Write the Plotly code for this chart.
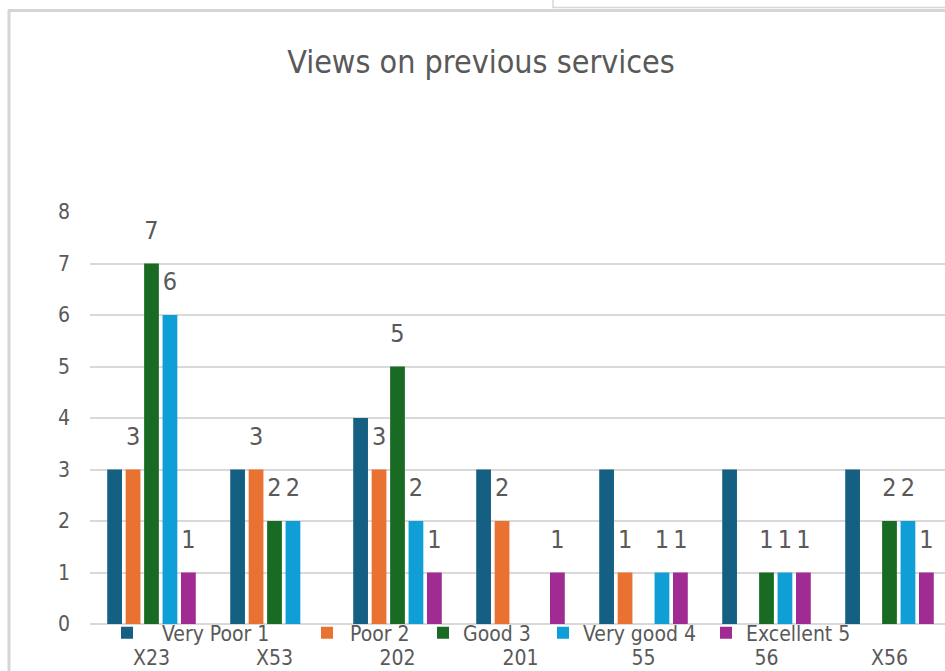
import plotly.graph_objects as go

# Survey sites and ratings
categories = ["X23", "X53", "202", "201", "55", "56", "X56"]
series_names = ["Very Poor 1", "Poor 2", "Good 3", "Very good 4", "Excellent 5"]
very_poor = [3, 3, 4, 3, 3, 3, 3]
poor = [3, 3, 3, 2, 1, 0, 0]
good = [7, 2, 5, 0, 0, 1, 2]
very_good = [6, 2, 2, 0, 1, 1, 2]
excellent = [1, 0, 1, 1, 1, 1, 1]
y_ticks = [0, 1, 2, 3, 4, 5, 6, 7, 8]

series_values = [very_poor, poor, good, very_good, excellent]
colors = ["#156082", "#E97132", "#196B24", "#0F9ED5", "#A02B93"]
show_labels = [False, True, True, True, True]

FONT = "Liberation Sans Narrow, DejaVu Sans Condensed, Arial Narrow, sans-serif"
TEXT_COLOR = "#595959"
GRID = "#D9D9D9"

W, H = 945, 671
M_L, M_R, M_T, M_B = 90, 0, 212, 47
BARGAP = 0.25

fig = go.Figure()

legend_ids = ["legend", "legend2", "legend3", "legend4", "legend5"]
for name, vals, col, lg in zip(series_names, series_values, colors, legend_ids):
    fig.add_trace(go.Bar(
        name=name, x=categories, y=vals, marker=dict(color=col, line=dict(width=0)),
        legend=lg, hoverinfo="skip",
    ))

# value labels, grouped the same way as the bars
for name, vals, show in zip(series_names, series_values, show_labels):
    fig.add_trace(go.Scatter(
        x=categories, y=vals, mode="markers+text",
        text=[str(v) if (show and v) else "" for v in vals],
        textposition="top center",
        textfont=dict(family=FONT, size=25, color=TEXT_COLOR),
        marker=dict(size=28, opacity=0),
        showlegend=False, hoverinfo="skip", cliponaxis=False,
    ))

# legend entries: where each label starts (px) and the symbol slot width
legend_text_px = [162, 350, 463, 583, 746]
legend_item_w = [60, 36, 30, 30, 30]
plot_w = W - M_L - M_R
plot_h = H - M_T - M_B

def px_x(p):
    return (p - M_L) / plot_w

def px_y(p):
    return (H - M_B - p) / plot_h

legend_layouts = {}
for lg, tx, iw in zip(legend_ids, legend_text_px, legend_item_w):
    legend_layouts[lg] = dict(
        x=px_x(tx - iw - 10), y=px_y(633), xanchor="left", yanchor="middle",
        orientation="h", bgcolor="rgba(0,0,0,0)", borderwidth=0,
        font=dict(family=FONT, size=21, color=TEXT_COLOR),
        itemwidth=iw,
    )

# frame lines of the chart box
frame = [
    dict(x0=px_x(9), x1=px_x(9), y0=px_y(10), y1=px_y(690), w=3),
    dict(x0=px_x(8), x1=px_x(960), y0=px_y(10.5), y1=px_y(10.5), w=3),
    dict(x0=px_x(553), x1=px_x(553), y0=px_y(-2), y1=px_y(8), w=1.5),
    dict(x0=px_x(553), x1=px_x(960), y0=px_y(7.5), y1=px_y(7.5), w=1.5),
]
shapes = [
    dict(type="line", xref="paper", yref="paper", x0=f["x0"], x1=f["x1"],
         y0=f["y0"], y1=f["y1"], line=dict(color="#D6D6D6", width=f["w"]))
    for f in frame
]

last_cut = (W - M_L) / 123.0  # category spacing in px

fig.update_layout(
    width=W, height=H,
    margin=dict(l=M_L, r=M_R, t=M_T, b=M_B, pad=0, autoexpand=False),
    paper_bgcolor="white", plot_bgcolor="white",
    barmode="group", bargap=BARGAP, bargroupgap=0.2,
    scattermode="group", scattergap=BARGAP,
    title=dict(text="Views on previous services", x=(481 - M_L) / plot_w, xref="paper",
               xanchor="center", y=1 - 62 / H, yanchor="middle",
               font=dict(family=FONT, size=32, color=TEXT_COLOR)),
    font=dict(family=FONT, color=TEXT_COLOR),
    shapes=shapes,
    **legend_layouts,
)

fig.update_xaxes(
    type="category", range=[-0.5, -0.5 + last_cut], automargin=False,
    showgrid=False, showline=False, zeroline=False, ticks="",
    tickfont=dict(family=FONT, size=21, color=TEXT_COLOR),
    ticklabelstandoff=19,
)
fig.update_yaxes(
    range=[0, 8], tickvals=y_ticks, automargin=False,
    showgrid=True, gridcolor=GRID, gridwidth=2,
    zeroline=True, zerolinecolor=GRID, zerolinewidth=2, showline=False,
    tickfont=dict(family=FONT, size=21, color=TEXT_COLOR),
    ticklabelstandoff=19,
)

fig.write_html("out.html")
